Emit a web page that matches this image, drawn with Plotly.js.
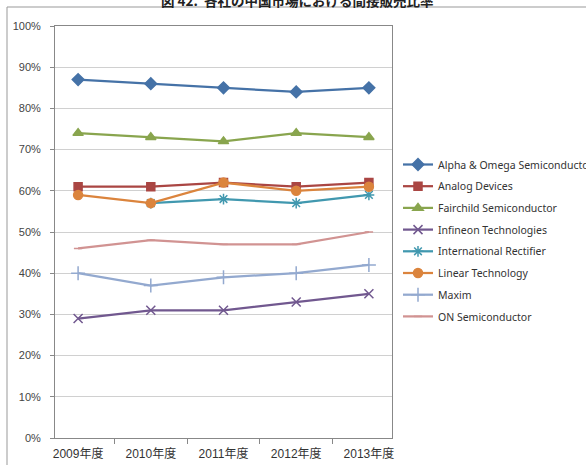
<!DOCTYPE html>
<html><head><meta charset="utf-8">
<script src="https://cdn.plot.ly/plotly-3.0.1.min.js"></script>
<style>html,body{margin:0;padding:0;background:#fff;}#chart{width:586px;height:465px;}</style>
</head><body><div id="chart"></div>
<script>
const years = ["2009年度","2010年度","2011年度","2012年度","2013年度"];
const alphaOmega = [87, 86, 85, 84, 85];
const analogDevices = [61, 61, 62, 61, 62];
const fairchild = [74, 73, 72, 74, 73];
const infineon = [29, 31, 31, 33, 35];
const intlRectifier = [null, 57, 58, 57, 59];
const linearTech = [59, 57, 62, 60, 61];
const maxim = [40, 37, 39, 40, 42];
const onSemi = [46, 48, 47, 47, 50];
const yTicks = [0,10,20,30,40,50,60,70,80,90,100];
const yTickText = yTicks.map(v => v + "%");

const series = [
  {name:"Alpha & Omega Semiconductor", y:alphaOmega, color:"#4572A7", symbol:"diamond", size:9},
  {name:"Analog Devices", y:analogDevices, color:"#AA4643", symbol:"square", size:8},
  {name:"Fairchild Semiconductor", y:fairchild, color:"#89A54E", symbol:"triangle-up", size:9},
  {name:"Infineon Technologies", y:infineon, color:"#71588F", symbol:"x-thin-open", size:9},
  {name:"International Rectifier", y:intlRectifier, color:"#4198AF", symbol:"asterisk-open", size:9},
  {name:"Linear Technology", y:linearTech, color:"#DB843D", symbol:"circle", size:9},
  {name:"Maxim", y:maxim, color:"#93A9CF", symbol:"cross-thin-open", size:10},
  {name:"ON Semiconductor", y:onSemi, color:"#D19392", symbol:"line-ew-open", size:6}
];

const traces = series.map((s, i) => ({
  type: "scatter", mode: "lines+markers", x: years, y: s.y, name: s.name,
  legendgroup: "g" + i,
  line: {color: s.color, width: 2.25},
  marker: {symbol: s.symbol, size: s.size, color: s.color, line: {color: s.color, width: 1.5}},
  connectgaps: false
}));

const ml = 55, mr = 194, mt = 26, mb = 27;
const pw = 586 - ml - mr, ph = 465 - mt - mb;
const px = x => (x - ml) / pw;
const py = y => (465 - mb - y) / ph;

const layout = {
  width: 586, height: 465,
  margin: {l: ml, r: mr, t: mt, b: mb, autoexpand: false},
  paper_bgcolor: "#fff", plot_bgcolor: "#fff",
  showlegend: true,
  font: {family: "Liberation Sans, Noto Sans CJK JP, sans-serif", size: 11, color: "#444"},
  xaxis: {
    type: "category", tickson: "boundaries", ticks: "outside", ticklen: 5,
    tickcolor: "#888", showgrid: false, showline: true, linecolor: "#888", linewidth: 1,
    mirror: true, tickfont: {size: 12, color: "#333"}, ticklabelstandoff: 5, fixedrange: true
  },
  yaxis: {
    range: [0, 100], tickvals: yTicks, ticktext: yTickText, ticks: "outside", ticklen: 4,
    tickcolor: "#888", showgrid: true, gridcolor: "#D0D0D0", gridwidth: 1,
    showline: true, linecolor: "#888", linewidth: 1, mirror: true, zeroline: false,
    tickfont: {size: 11, color: "#444"}, ticklabelstandoff: 7, fixedrange: true
  },
  legend: {
    x: px(398), y: py(150), xanchor: "left", yanchor: "top",
    traceorder: "grouped", tracegroupgap: 2.7, itemwidth: 30,
    font: {family: "Noto Sans, sans-serif", size: 10.5, color: "#333"},
    bgcolor: "rgba(0,0,0,0)"
  },
  shapes: [
    {type: "line", xref: "paper", yref: "paper", x0: px(7), x1: px(600), y0: py(7), y1: py(7), line: {color: "#999", width: 1}},
    {type: "line", xref: "paper", yref: "paper", x0: px(7), x1: px(7), y0: py(7), y1: py(480), line: {color: "#999", width: 1}}
  ],
  annotations: [
    {text: "<b>図 42.  各社の中国市場における間接販売比率</b>", xref: "paper", yref: "paper",
     x: px(297), y: py(0), xanchor: "center", yanchor: "middle", showarrow: false,
     font: {family: "Noto Sans CJK JP, sans-serif", size: 13.5, color: "#222"}}
  ]
};

Plotly.newPlot("chart", traces, layout, {staticPlot: true, displayModeBar: false});
</script></body></html>
